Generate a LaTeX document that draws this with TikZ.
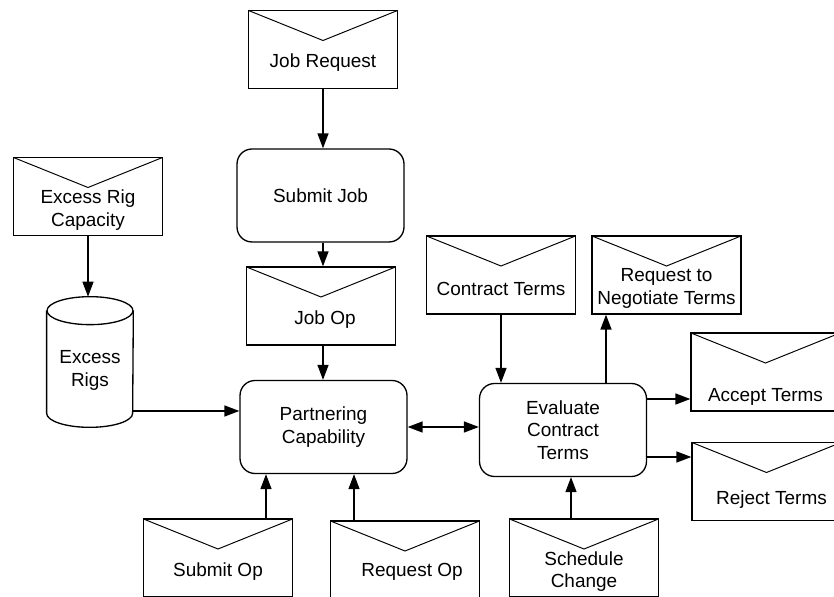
\documentclass[tikz,border=0pt]{standalone}
\usepackage{fontspec}
\setmainfont{Liberation Sans}
\usetikzlibrary{arrows.meta}

\begin{document}
\begin{tikzpicture}[x=0.02cm, y=-0.02cm]
        \tikzstyle{every node}=[font=\fontsize{10.8}{12.8}\selectfont, text=black]
        \tikzstyle{envelope}=[rectangle, draw=black, line width=0.75pt, minimum width=2.98cm, minimum height=1.56cm, inner sep=0pt,
            path picture={\draw[line width=0.55pt] (path picture bounding box.north west) -- ([yshift=-0.6cm]path picture bounding box.north) -- (path picture bounding box.north east);}]
        \tikzstyle{msg}=[align=center, yshift=-0.27cm]
        \tikzstyle{process}=[rectangle, rounded corners=0.3cm, draw=black, line width=0.75pt, minimum width=3.34cm, minimum height=1.86cm, align=center]
        \tikzstyle{flow}=[line width=0.8pt, -{Triangle[length=0.3cm, width=0.22cm]}]

        \useasboundingbox (0,0) rectangle (834,597);

        \node[envelope, label={[msg]center:Job Request}] (jobreq) at (323,49.5) {};
        \node[process] (submitjob) at (320.5,195.5) {Submit Job};
        \node[envelope, label={[msg, xshift=0.08cm]center:Job Op}] (jobop) at (321,306) {};
        \node[envelope, label={[msg]center:{Excess Rig\\Capacity}}] (excesscap) at (88,196.5) {};
        \node[inner sep=0pt, minimum width=1.72cm, minimum height=2.6cm, label={[msg, yshift=0.1cm]center:{Excess\\Rigs}}] (rigs) at (90,362) {};
        \node[process] (partner) at (323.5,427) {Partnering\\Capability};
        \node[process] (evaluate) at (563,430) {Evaluate\\Contract\\Terms};

        \node[envelope, label={[msg]center:Contract Terms}] (contract) at (501,275) {};
        \node[envelope, label={[msg]center:{Request to\\Negotiate Terms}}] (negotiate) at (666.5,275) {};
        \node[envelope, label={[msg, yshift=-0.22cm]center:Accept Terms}] (accept) at (765.5,372) {};
        \node[envelope, label={[msg, yshift=-0.1cm, xshift=0.1cm]center:Reject Terms}] (reject) at (766.5,481.5) {};
        \node[envelope, label={[msg]center:{Schedule\\Change}}] (schedule) at (584,558) {};
        \node[envelope, label={[msg]center:Submit Op}] (submitop) at (218,558) {};
        \node[envelope, label={[msg, yshift=0.03cm, xshift=0.14cm]center:Request Op}] (requestop) at (405,560) {};

        % the store
        \draw[line width=0.75pt] ([yshift=-0.28cm]rigs.north) ellipse [x radius=0.86cm, y radius=0.28cm];
        \draw[line width=0.75pt] ([yshift=-0.28cm]rigs.north west) -- ([yshift=0.28cm]rigs.south west)
            arc[start angle=180, end angle=360, x radius=0.86cm, y radius=0.28cm] -- ([yshift=-0.28cm]rigs.north east);

        \draw[flow] (jobreq.south) -- (jobreq.south |- submitjob.north);
        \draw[flow] (submitjob.south -| jobreq.south) -- (jobop.north -| jobreq.south);
        \draw[flow] (jobop.south -| jobreq.south) -- (partner.north -| jobreq.south);
        \draw[flow] (excesscap.south) -- (excesscap.south |- rigs.north);
        \draw[flow] ([yshift=-0.98cm]rigs.east) -- ([yshift=-0.98cm]rigs.east -| partner.west);
        \draw[flow, {Triangle[length=0.3cm, width=0.22cm]}-{Triangle[length=0.3cm, width=0.22cm]}] (partner.east) -- (partner.east -| evaluate.west);
        \draw[flow] ([xshift=0.96cm]submitop.north) -- ([xshift=0.96cm]submitop.north |- partner.south);
        \draw[flow] ([xshift=-1.02cm]requestop.north) -- ([xshift=-1.02cm]requestop.north |- partner.south);

        \draw[flow] (contract.south) -- (contract.south |- evaluate.north);
        \draw[flow] ([xshift=0.86cm]evaluate.north) -- ([xshift=0.86cm]evaluate.north |- negotiate.south);
        \draw[flow] ([yshift=0.62cm]evaluate.east) -- ([yshift=0.62cm]evaluate.east -| accept.west);
        \draw[flow] ([yshift=-0.54cm]evaluate.east) -- ([yshift=-0.54cm]evaluate.east -| reject.west);
        \draw[flow] ([xshift=-0.26cm]schedule.north) -- ([xshift=-0.26cm]schedule.north |- evaluate.south);
    \end{tikzpicture}
\end{document}
